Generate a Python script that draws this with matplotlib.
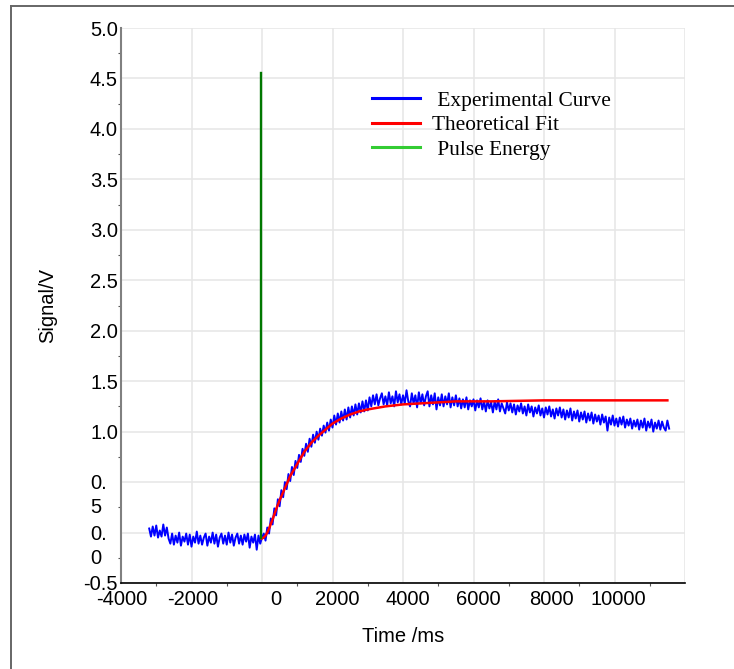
import numpy as np
import matplotlib
matplotlib.use('Agg')
import matplotlib.pyplot as plt
from matplotlib.lines import Line2D
from matplotlib.ticker import MultipleLocator
import matplotlib.transforms as mtransforms

# ---------------- data ----------------
# experimental curve sampled every 50 ms from -3200 ms to 11550 ms
blue_t = np.arange(-3200, 11551, 50)
blue_v = [
    # -3200 .. -2650
    0.04, -0.04, 0.06, -0.03, 0.07, -0.05, 0.02, -0.04, 0.08, -0.03, 0.05, -0.06,
    # -2600 .. -150
    -0.11, -0.01, -0.12, -0.03, -0.10, 0.00, -0.13, -0.04, -0.09, -0.01,
    -0.12, -0.02, -0.14, -0.04, -0.10, 0.01, -0.11, -0.03, -0.12, -0.05,
    -0.01, -0.13, -0.04, -0.10, 0.00, -0.11, -0.02, -0.14, -0.05, -0.01,
    -0.11, -0.03, -0.12, 0.00, -0.10, -0.02, -0.13, -0.05, -0.01, -0.11,
    -0.03, -0.12, -0.02, -0.09, -0.01, -0.15, -0.04, -0.10, -0.02, -0.17,
    # -100 .. 0
    -0.03, -0.11, -0.05,
    # 50 .. 2000
    -0.01, -0.08, 0.05, -0.01, 0.14, 0.08, 0.24, 0.17, 0.33, 0.26,
    0.42, 0.35, 0.50, 0.43, 0.58, 0.51, 0.65, 0.57, 0.71, 0.64,
    0.77, 0.70, 0.83, 0.76, 0.88, 0.80, 0.93, 0.85, 0.97, 0.89,
    1.00, 0.92, 1.03, 0.96, 1.06, 0.99, 1.09, 1.01, 1.12, 1.04,
    # 2050 .. 3000
    1.16, 1.07, 1.18, 1.09, 1.20, 1.11, 1.22, 1.12, 1.24, 1.14,
    1.25, 1.16, 1.27, 1.17, 1.28, 1.19, 1.30, 1.20, 1.31, 1.21,
    # 3050 .. 5500
    1.34, 1.25, 1.36, 1.27, 1.37, 1.26, 1.33, 1.38, 1.27, 1.35,
    1.26, 1.39, 1.28, 1.35, 1.25, 1.40, 1.29, 1.37, 1.27, 1.36,
    1.28, 1.41, 1.30, 1.25, 1.38, 1.28, 1.36, 1.24, 1.39, 1.28,
    1.37, 1.26, 1.35, 1.40, 1.25, 1.36, 1.27, 1.38, 1.22, 1.34,
    1.26, 1.37, 1.25, 1.35, 1.27, 1.38, 1.24, 1.34, 1.26, 1.36,
    # 5550 .. 8500
    1.25, 1.33, 1.23, 1.32, 1.24, 1.34, 1.22, 1.31, 1.25, 1.32,
    1.21, 1.31, 1.24, 1.33, 1.22, 1.30, 1.20, 1.31, 1.23, 1.29,
    1.19, 1.30, 1.22, 1.32, 1.20, 1.28, 1.23, 1.18, 1.29, 1.21,
    1.28, 1.19, 1.27, 1.17, 1.26, 1.20, 1.28, 1.18, 1.25, 1.16,
    1.27, 1.19, 1.25, 1.15, 1.24, 1.18, 1.26, 1.16, 1.23, 1.14,
    1.24, 1.17, 1.25, 1.15, 1.22, 1.13, 1.23, 1.16, 1.24, 1.14,
    # 8550 .. 11550
    1.22, 1.12, 1.21, 1.14, 1.23, 1.11, 1.20, 1.13, 1.21, 1.10,
    1.19, 1.12, 1.20, 1.09, 1.18, 1.11, 1.19, 1.08, 1.17, 1.10,
    1.16, 1.07, 1.17, 1.09, 1.15, 1.01, 1.14, 1.07, 1.16, 1.06,
    1.13, 1.05, 1.14, 1.07, 1.15, 1.04, 1.12, 1.06, 1.13, 1.03,
    1.11, 1.05, 1.12, 1.02, 1.11, 1.04, 1.13, 1.01, 1.10, 1.04,
    1.12, 1.00, 1.09, 1.03, 1.11, 1.02, 1.10, 1.04, 1.01, 1.11, 1.03,
]

# theoretical fit (read at knots)
red_t = [-10, 50, 100, 150, 200, 300, 400, 500, 600, 700, 800, 900, 1000,
         1200, 1400, 1600, 1800, 2000, 2250, 2500, 2750, 3000, 3500, 4000,
         4500, 5000, 5500, 6500, 8000, 10000, 11500]
red_v = [-0.06, -0.05, -0.03, 0.00, 0.04, 0.13, 0.23, 0.32, 0.40, 0.48, 0.56,
         0.62, 0.68, 0.80, 0.89, 0.96, 1.02, 1.08, 1.13, 1.17, 1.20, 1.22,
         1.25, 1.27, 1.28, 1.29, 1.30, 1.30, 1.31, 1.31, 1.31]

# pulse energy marker
pulse_t = [-20, -20]
pulse_v = [-0.05, 4.55]

x_ticks = [-4000, -2000, 0, 2000, 4000, 6000, 8000, 10000, 12000]
x_labels = ['-4000', '-2000', '0', '2000', '4000', '6000', '8000', '10000', '']
y_ticks = [-0.5, 0.0, 0.5, 1.0, 1.5, 2.0, 2.5, 3.0, 3.5, 4.0, 4.5, 5.0]
y_labels = ['-0.5', '', '', '1.0', '1.5', '2.0', '2.5', '3.0', '3.5', '4.0', '4.5', '5.0']
wrapped_labels = {0.0: '0.\n0', 0.5: '0.\n5'}
legend_labels = [' Experimental Curve', 'Theoretical Fit', ' Pulse Energy']

# ---------------- figure ----------------
plt.rcParams['font.family'] = ['Liberation Sans', 'DejaVu Sans']
W, H = 734, 669
fig = plt.figure(figsize=(W / 100, H / 100), dpi=100)
ax = fig.add_axes([121 / W, (H - 583) / H, 564 / W, 555 / H])

# outer frame (top and left edges)
fig.add_artist(Line2D([11 / W, 11 / W], [0, 1 - 6 / H], transform=fig.transFigure,
                      color='#666666', lw=1.4))
fig.add_artist(Line2D([11 / W, 1], [1 - 6 / H, 1 - 6 / H], transform=fig.transFigure,
                      color='#666666', lw=1.4))

ax.plot(blue_t, blue_v, color='#0000ff', lw=1.4, zorder=3)
ax.plot(red_t, red_v, color='#ff0000', lw=1.8, zorder=4)
ax.plot(pulse_t, pulse_v, color='#007800', lw=1.7, zorder=5)

ax.set_xlim(-4000, 12000)
ax.set_ylim(-0.5, 5.0)

for s in ['top', 'right']:
    ax.spines[s].set_visible(False)
ax.spines['left'].set_color('#808080')
ax.spines['left'].set_linewidth(1.5)
ax.spines['bottom'].set_color('#000000')
ax.spines['bottom'].set_linewidth(1.2)

ax.set_axisbelow(True)
ax.grid(True, which='major', color='#e6e6e6', lw=1.1)

ax.set_xticks(x_ticks)
ax.set_xticklabels(x_labels)
ax.set_yticks(y_ticks)
ax.set_yticklabels(y_labels)
ax.xaxis.set_minor_locator(MultipleLocator(1000))
ax.yaxis.set_minor_locator(MultipleLocator(0.25))
ax.tick_params(axis='both', which='major', length=0, labelsize=14.5)
ax.tick_params(axis='x', which='major', pad=5)
ax.tick_params(axis='y', which='major', pad=2.2)
ax.tick_params(axis='both', which='minor', length=2.5, width=0.8,
               color='#555555', direction='out')

# small horizontal offsets of x tick labels as in the reference
x_offsets = [1, 1, 14, 5, 5, 5, 7, 4, 0]
for lbl, dx in zip(ax.get_xticklabels(), x_offsets):
    lbl.set_transform(lbl.get_transform() +
                      mtransforms.ScaledTranslation(dx / 100, 0, fig.dpi_scale_trans))

# wrapped y tick labels
ytr = mtransforms.offset_copy(ax.get_yaxis_transform(), fig=fig, x=-31, y=8, units='dots')
for val, txt in wrapped_labels.items():
    ax.text(0, val, txt, transform=ytr, ha='left', va='top', fontsize=14.5,
            linespacing=1.36)

ax.set_xlabel('Time /ms', fontsize=14.5)
ax.xaxis.label.set_va('center')
ax.xaxis.set_label_coords(0.5, (583 - 636) / 555)
ax.set_ylabel('Signal/V', fontsize=14.5)
ax.yaxis.label.set_va('center')
ax.yaxis.set_label_coords((48 - 121) / 564, 0.5)

handles = [Line2D([], [], color='#0000ff', lw=2.2),
           Line2D([], [], color='#ff0000', lw=2.2),
           Line2D([], [], color='#33cc33', lw=2.2)]
ax.legend(handles, legend_labels, loc='upper left',
          bbox_to_anchor=(372 / W, 1 - 91 / H), bbox_transform=fig.transFigure,
          frameon=False, prop={'family': 'Liberation Serif', 'size': 15.4},
          handlelength=2.24, handletextpad=0.56, labelspacing=0.21,
          borderpad=0, borderaxespad=0)

fig.savefig('out.png', dpi=100)
